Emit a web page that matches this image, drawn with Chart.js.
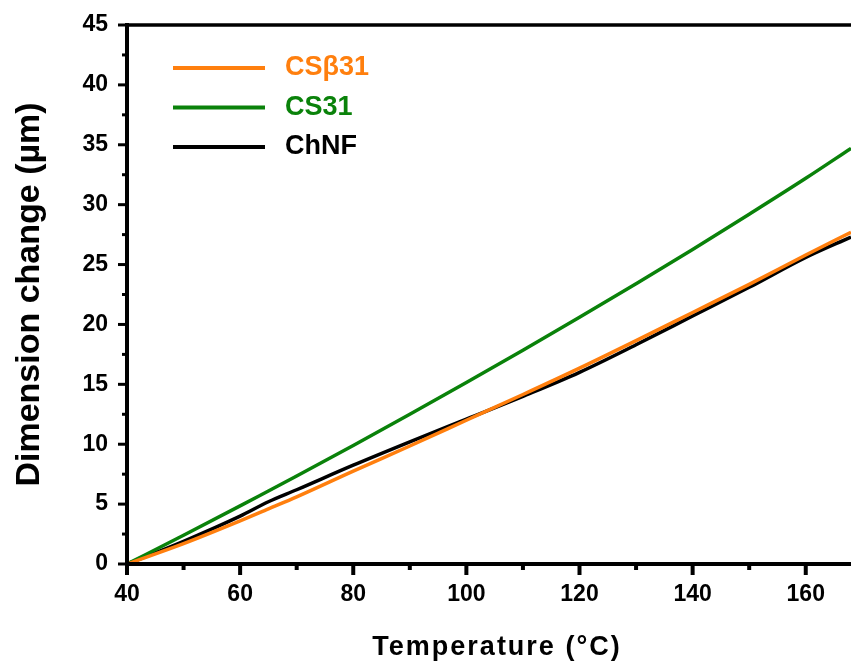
<!DOCTYPE html>
<html>
<head>
<meta charset="utf-8">
<script src="https://cdn.jsdelivr.net/npm/chart.js@4.4.0/dist/chart.umd.min.js"></script>
<style>
  html, body { margin: 0; padding: 0; background: #fff; }
  #wrap { width: 851px; height: 666px; }
</style>
</head>
<body>
<div id="wrap"><canvas id="dimChart" width="851" height="666"></canvas></div>
<script>
// temperature points (°C)
const temps = [40, 50, 60, 65, 70, 80, 90, 100, 110, 120, 130, 140, 150, 160, 168];

// dimension change (µm) per sample
const csBeta31 = [0, 1.7, 3.6, 4.6, 5.6, 7.75, 9.85, 12.0, 14.15, 16.35, 18.65, 21.0, 23.35, 25.8, 27.7];
const cs31     = [0, 2.4, 4.85, 6.1, 7.35, 9.9, 12.5, 15.15, 17.85, 20.6, 23.4, 26.25, 29.2, 32.2, 34.7];
const chnf     = [0, 1.9, 4.0, 5.2, 6.2, 8.25, 10.2, 12.1, 14.0, 16.0, 18.3, 20.7, 23.1, 25.6, 27.3];

const seriesNames = ["CSβ31", "CS31", "ChNF"];
const seriesColors = ["#ff7f0e", "#0a820a", "#000000"];

const xMajor = [40, 60, 80, 100, 120, 140, 160];
const yMajor = [0, 5, 10, 15, 20, 25, 30, 35, 40, 45];
const xTitle = "Temperature (°C)";

const FONT = "'Liberation Sans', Arial, sans-serif";

function toPoints(ys) {
    return temps.map((t, i) => ({ x: t, y: ys[i] }));
}

// ============================================
// Axes frame + major / minor ticks + x title
// ============================================
const frameTicks = {
    id: "frameTicks",
    afterDraw(chart) {
        const { ctx, chartArea: a, scales: { x, y } } = chart;
        ctx.save();
        ctx.strokeStyle = "#000";
        ctx.lineCap = "butt";

        // frame lines (left, bottom, top)
        ctx.lineWidth = 4;
        ctx.beginPath();
        ctx.moveTo(a.left, a.top - 2);
        ctx.lineTo(a.left, a.bottom + 2);
        ctx.moveTo(a.left - 2, a.bottom);
        ctx.lineTo(a.right, a.bottom);
        ctx.stroke();
        ctx.lineWidth = 3.5;
        ctx.beginPath();
        ctx.moveTo(a.left - 2, a.top);
        ctx.lineTo(a.right, a.top);
        ctx.stroke();

        // x ticks
        for (let v = 40; v <= 168; v += 10) {
            const px = x.getPixelForValue(v);
            const major = v % 20 === 0;
            ctx.lineWidth = 4;
            ctx.beginPath();
            ctx.moveTo(px, a.bottom);
            ctx.lineTo(px, a.bottom + (major ? 11 : 6));
            ctx.stroke();
        }
        // y ticks
        for (let v = 0; v <= 45; v += 2.5) {
            const py = y.getPixelForValue(v);
            const major = v % 5 === 0;
            ctx.lineWidth = 3;
            ctx.beginPath();
            ctx.moveTo(a.left, py);
            ctx.lineTo(a.left - (major ? 9 : 5), py);
            ctx.stroke();
        }

        // x title, letter-spaced like the original
        ctx.fillStyle = "#000";
        ctx.font = "bold 27px " + FONT;
        ctx.letterSpacing = "2px";
        ctx.textAlign = "center";
        ctx.textBaseline = "middle";
        ctx.fillText(xTitle, 497, x.bottom - 18);
        ctx.restore();
    }
};

// ============================================
// Legend in the upper-left corner of the plot
// ============================================
const innerLegend = {
    id: "innerLegend",
    afterDraw(chart) {
        const { ctx, chartArea: a } = chart;
        ctx.save();
        ctx.font = "bold 27px " + FONT;
        ctx.textBaseline = "middle";
        chart.data.datasets.forEach((ds, i) => {
            const yy = a.top + 43 + i * 39.5;
            ctx.strokeStyle = ds.borderColor;
            ctx.lineWidth = 4;
            ctx.beginPath();
            ctx.moveTo(a.left + 46, yy);
            ctx.lineTo(a.left + 138, yy);
            ctx.stroke();
            ctx.fillStyle = ds.borderColor;
            ctx.fillText(ds.label, a.left + 158, yy);
        });
        ctx.restore();
    }
};

const ctx = document.getElementById("dimChart").getContext("2d");

new Chart(ctx, {
    type: "line",
    data: {
        datasets: [csBeta31, cs31, chnf].map((ys, i) => ({
            label: seriesNames[i],
            data: toPoints(ys),
            borderColor: seriesColors[i],
            backgroundColor: seriesColors[i],
            borderWidth: 3.5,
            pointRadius: 0,
            cubicInterpolationMode: "monotone",
            fill: false,
        })),
    },
    options: {
        responsive: false,
        animation: false,
        layout: { padding: { top: 25, right: 0, left: 0, bottom: 0 } },
        plugins: {
            legend: { display: false },
            tooltip: { enabled: false },
        },
        scales: {
            x: {
                type: "linear",
                min: 40,
                max: 168,
                afterBuildTicks: (s) => { s.ticks = xMajor.map((v) => ({ value: v })); },
                afterFit: (s) => {
                    s.height = 102;
                    s.paddingLeft = 0;
                    s.paddingRight = 0;
                },
                grid: { display: false, drawTicks: false },
                border: { display: false },
                ticks: {
                    color: "#000",
                    padding: 17,
                    maxRotation: 0,
                    autoSkip: false,
                    font: { family: FONT, size: 23, weight: "bold" },
                },
                title: { display: false },
            },
            y: {
                min: 0,
                max: 45,
                afterBuildTicks: (s) => { s.ticks = yMajor.map((v) => ({ value: v })); },
                afterFit: (s) => {
                    s.width = 127;
                    s.paddingTop = 0;
                    s.paddingBottom = 0;
                },
                grid: { display: false, drawTicks: false },
                border: { display: false },
                ticks: {
                    color: "#000",
                    padding: 19,
                    autoSkip: false,
                    font: { family: FONT, size: 23, weight: "bold" },
                },
                title: {
                    display: true,
                    text: "Dimension change (µm)",
                    color: "#000",
                    padding: { top: 9 },
                    font: { family: FONT, size: 34, weight: "bold" },
                },
            },
        },
    },
    plugins: [frameTicks, innerLegend],
});
</script>
</body>
</html>
